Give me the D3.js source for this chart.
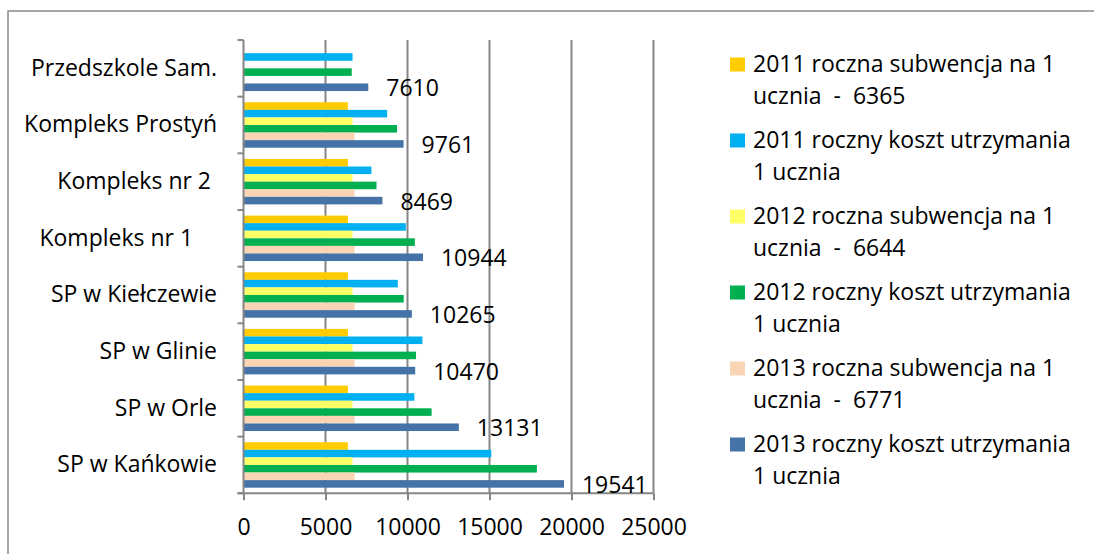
<!DOCTYPE html>
<html>
<head>
<meta charset="utf-8">
<script src="https://cdn.jsdelivr.net/npm/d3@7"></script>
<style>
  body { margin: 0; background: #fff; overflow: hidden; }
  text { font-family: "Open Sans", "Noto Sans", sans-serif; fill: #000; }
</style>
</head>
<body>
<div id="chart"></div>
<script>
// categories top to bottom (trailing spaces are in the source labels)
var categories = ["Przedszkole Sam.", "Kompleks Prostyń", "Kompleks nr 2 ", "Kompleks nr 1    ",
    "SP w Kiełczewie", "SP w Glinie", "SP w Orle", "SP w Kańkowie"];

var seriesNames = [
    "2011 roczna subwencja na 1 ucznia  -  6365",
    "2011 roczny koszt utrzymania 1 ucznia",
    "2012 roczna subwencja na 1 ucznia  -  6644",
    "2012 roczny koszt utrzymania 1 ucznia",
    "2013 roczna subwencja na 1 ucznia  -  6771",
    "2013 roczny koszt utrzymania 1 ucznia"
];
var legendLines = [
    ["2011 roczna subwencja na 1", "ucznia  -  6365"],
    ["2011 roczny koszt utrzymania", "1 ucznia"],
    ["2012 roczna subwencja na 1", "ucznia  -  6644"],
    ["2012 roczny koszt utrzymania", "1 ucznia"],
    ["2013 roczna subwencja na 1", "ucznia  -  6771"],
    ["2013 roczny koszt utrzymania", "1 ucznia"]
];
var colors = ["#FFCC00", "#00B0F0", "#FFFF66", "#00B050", "#FAD5B5", "#4572A7"];

// values per category, same order as categories
var subw2011 = [null, 6365, 6365, 6365, 6365, 6365, 6365, 6365];
var koszt2011 = [6650, 8760, 7800, 9900, 9410, 10910, 10420, 15110];
var subw2012 = [null, 6644, 6644, 6644, 6644, 6644, 6644, 6644];
var koszt2012 = [6600, 9360, 8110, 10450, 9770, 10520, 11470, 17890];
var subw2013 = [null, 6771, 6771, 6771, 6771, 6771, 6771, 6771];
var koszt2013 = [7610, 9761, 8469, 10944, 10265, 10470, 13131, 19541];

var seriesValues = [subw2011, koszt2011, subw2012, koszt2012, subw2013, koszt2013];
var xTicks = [0, 5000, 10000, 15000, 20000, 25000];

var width = 1094, height = 554;
var fontSize = "23px";

var svg = d3.select("#chart").append("svg")
    .attr("width", width)
    .attr("height", height);

// chart area border: only left and top edges are inside the picture
svg.append("path")
    .attr("d", "M8," + (height + 10) + "V11H" + (width + 10))
    .attr("fill", "none")
    .attr("stroke", "#8a8a8a")
    .attr("stroke-width", 1.5);

var x = d3.scaleLinear()
    .domain([0, 25000])
    .range([243.5, 653.5]);

var y = d3.scaleBand()
    .domain(categories)
    .range([40, 493.3])
    .padding(0);

var ySeries = d3.scaleBand()
    .domain(d3.range(seriesNames.length))
    .range([0, y.bandwidth()])
    .paddingInner(0)
    .paddingOuter(0.74);

// gridlines
svg.append("g")
    .selectAll("line")
    .data(xTicks.slice(1))
    .enter().append("line")
    .attr("x1", function(d) { return x(d); })
    .attr("x2", function(d) { return x(d); })
    .attr("y1", 40)
    .attr("y2", 493.3)
    .attr("stroke", "#868686")
    .attr("stroke-width", 2);

// bars
var groups = svg.append("g")
    .selectAll("g")
    .data(seriesValues)
    .enter().append("g")
    .attr("fill", function(d, i) { return colors[i]; });

groups.each(function(vals, si) {
    d3.select(this).selectAll("rect")
        .data(vals.map(function(v, ci) { return {v: v, c: categories[ci]}; })
            .filter(function(d) { return d.v != null; }))
        .enter().append("rect")
        .attr("x", x(0))
        .attr("y", function(d) { return y(d.c) + ySeries(si); })
        .attr("width", function(d) { return x(d.v) - x(0); })
        .attr("height", ySeries.bandwidth());
});

// y axis line and category ticks
svg.append("line")
    .attr("x1", x(0)).attr("x2", x(0))
    .attr("y1", 40).attr("y2", 493.3)
    .attr("stroke", "#868686").attr("stroke-width", 2);

var boundaries = categories.map(function(c) { return y(c); }).concat([y.range()[1]]);
svg.append("g")
    .selectAll("line")
    .data(boundaries)
    .enter().append("line")
    .attr("x1", x(0) - 6).attr("x2", x(0))
    .attr("y1", function(d) { return d; })
    .attr("y2", function(d) { return d; })
    .attr("stroke", "#868686").attr("stroke-width", 2);

// category labels
svg.append("g")
    .selectAll("text")
    .data(categories)
    .enter().append("text")
    .attr("x", 217)
    .attr("y", function(d) { return y(d) + y.bandwidth() / 2 + 7.5; })
    .attr("text-anchor", "end")
    .style("white-space", "pre")
    .style("font-size", fontSize)
    .text(function(d) { return d; });

// x axis
var xAxis = svg.append("g")
    .attr("transform", "translate(0,493.3)")
    .call(d3.axisBottom(x).tickValues(xTicks).tickSize(7).tickPadding(18).tickFormat(d3.format("d")));
xAxis.select(".domain").attr("stroke", "#868686").attr("stroke-width", 2)
    .attr("d", "M" + (x(0) - 6) + ",0H" + x(25000));
xAxis.selectAll(".tick line").attr("stroke", "#868686").attr("stroke-width", 2);
xAxis.selectAll(".tick text")
    .style("font-size", fontSize)
    .style("font-family", "'Open Sans', 'Noto Sans', sans-serif")
    .attr("fill", "#000");

// data labels on the 2013 cost series
svg.append("g")
    .selectAll("text")
    .data(koszt2013)
    .enter().append("text")
    .attr("x", function(d) { return x(d) + 18; })
    .attr("y", function(d, i) { return y(categories[i]) + ySeries(5) + ySeries.bandwidth() / 2 + 9; })
    .style("font-size", fontSize)
    .text(function(d) { return d; });

// legend
var legend = svg.append("g")
    .selectAll("g")
    .data(legendLines)
    .enter().append("g")
    .attr("transform", function(d, i) { return "translate(730," + (57.5 + i * 76) + ")"; });

legend.append("rect")
    .attr("width", 15)
    .attr("height", 14)
    .attr("fill", function(d, i) { return colors[i]; });

legend.each(function(lines) {
    var t = d3.select(this).append("text")
        .attr("x", 23)
        .attr("y", 14.5)
        .style("font-size", fontSize)
        .style("white-space", "pre");
    lines.forEach(function(l, k) {
        t.append("tspan")
            .attr("x", 23)
            .attr("dy", k === 0 ? 0 : 31.7)
            .text(l);
    });
});
</script>
</body>
</html>
